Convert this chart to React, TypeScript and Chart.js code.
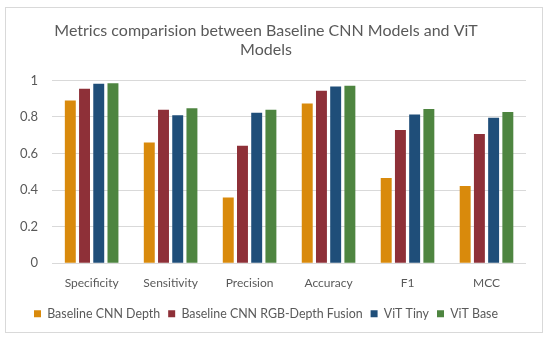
import React, { useEffect, useRef } from "react";
import { Chart, registerables } from "chart.js";

Chart.register(...registerables);

const categories = ["Specificity", "Sensitivity", "Precision", "Accuracy", "F1", "MCC"];
const cnnDepth = [0.89, 0.66, 0.36, 0.873, 0.466, 0.422];
const cnnFusion = [0.955, 0.84, 0.643, 0.944, 0.728, 0.707];
const vitTiny = [0.982, 0.809, 0.823, 0.967, 0.814, 0.796];
const vitBase = [0.984, 0.847, 0.84, 0.971, 0.843, 0.827];
const yTicks = [0, 0.2, 0.4, 0.6, 0.8, 1];

const FONT = "Lato, 'Open Sans', sans-serif";

export default function App() {
  const ref = useRef<HTMLCanvasElement | null>(null);
  useEffect(() => {
    if (!ref.current) return;
    const chart = new Chart(ref.current, {
      type: "bar",
      data: {
        labels: categories,
        datasets: [
          { label: "Baseline CNN Depth", data: cnnDepth, backgroundColor: "#D98A0C" },
          { label: "Baseline CNN RGB-Depth Fusion", data: cnnFusion, backgroundColor: "#8E3038" },
          { label: "ViT Tiny", data: vitTiny, backgroundColor: "#1F4E79" },
          { label: "ViT Base", data: vitBase, backgroundColor: "#4E8540" },
        ],
      },
      options: {
        animation: false,
        responsive: false,
        maintainAspectRatio: false,
        layout: { padding: { left: 0, right: 16, top: 0, bottom: 2 } },
        datasets: { bar: { categoryPercentage: 0.72, barPercentage: 0.77 } },
        plugins: {
          title: {
            display: true,
            text: ["Metrics comparision between Baseline CNN Models and ViT", "Models"],
            color: "#595959",
            font: { family: FONT, size: 16, weight: "normal" },
            padding: { top: 13, bottom: 21 },
            lineHeight: 1.25,
          },
          legend: {
            position: "bottom",
            labels: {
              color: "#595959",
              font: { family: FONT, size: 12.4 },
              boxWidth: 7,
              boxHeight: 7,
              padding: 8,
            },
          },
          tooltip: { enabled: false },
        },
        scales: {
          x: {
            grid: { display: false },
            border: { display: false },
            ticks: { color: "#595959", font: { family: FONT, size: 12 }, padding: 5 },
            afterFit: (axis: any) => {
              axis.height += 4;
            },
          },
          y: {
            min: 0,
            max: 1,
            afterBuildTicks: (axis: any) => {
              axis.ticks = yTicks.map((v) => ({ value: v }));
            },
            grid: { color: "#D9D9D9", drawTicks: false },
            border: { display: false },
            ticks: {
              color: "#595959",
              font: { family: FONT, size: 13 },
              padding: 14,
              callback: (v: any) => String(Math.round(Number(v) * 10) / 10),
            },
          },
        },
      },
    });
    return () => chart.destroy();
  }, []);
  return (
    <div style={{ position: "fixed", left: 0, top: 0, width: 550, height: 341, background: "#fff" }}>
      <div
        style={{
          position: "absolute",
          left: 5,
          top: 7,
          width: 536,
          height: 324,
          border: "1px solid #D9D9D9",
        }}
      >
        <canvas ref={ref} width={536} height={324} style={{ display: "block" }} />
      </div>
    </div>
  );
}
